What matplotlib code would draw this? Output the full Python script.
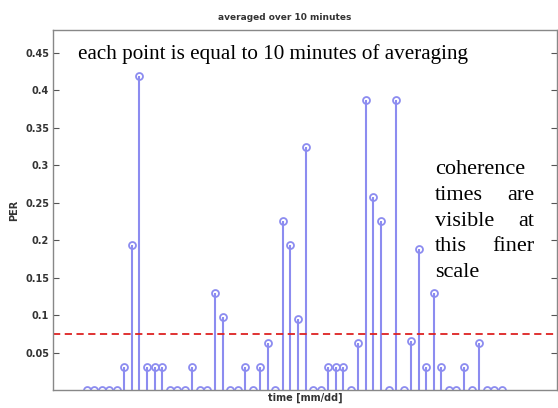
import matplotlib
matplotlib.use("Agg")
import matplotlib.pyplot as plt
import numpy as np

# PER per 10-minute window
per = [0, 0, 0, 0, 0, 0.031, 0.194, 0.419, 0.031, 0.031,
       0.031, 0, 0, 0, 0.031, 0, 0, 0.13, 0.097, 0,
       0, 0.031, 0, 0.031, 0.063, 0, 0.226, 0.194, 0.095, 0.324,
       0, 0, 0.031, 0.031, 0.031, 0, 0.063, 0.387, 0.258, 0.226,
       0, 0.387, 0, 0.065, 0.188, 0.031, 0.13, 0.031, 0, 0,
       0.031, 0, 0.063, 0, 0, 0]
threshold = 0.075
yticks = [0.05, 0.1, 0.15, 0.2, 0.25, 0.3, 0.35, 0.4, 0.45]
ytick_labels = ['0.05', '0.1', '0.15', '0.2', '0.25', '0.3', '0.35', '0.4', '0.45']

t = np.arange(1, len(per) + 1)
stem_col = '#8c8cf0'

fig = plt.figure(figsize=(5.58, 4.08), dpi=100)
ax = fig.add_axes([0.0955, 0.0441, 0.9025, 0.8816])

ml, sl, bl = ax.stem(t, per, basefmt=' ')
plt.setp(sl, color=stem_col, linewidth=1.5)
plt.setp(ml, marker='o', markersize=5, markerfacecolor='none',
         markeredgecolor=stem_col, markeredgewidth=1.3)

ax.axhline(threshold, color='#dd2222', linestyle='--', linewidth=1.3, dashes=(4, 2.5))

ax.set_xlim(-3.42, 63.3)
ax.set_ylim(0, 0.48)
ax.set_yticks(yticks)
ax.set_yticklabels(ytick_labels)
ax.set_xticks([])
ax.tick_params(axis='y', direction='in', length=4, width=0.8, color='#555555',
               labelsize=7, labelcolor='#333333', right=True, pad=3)
for lab in ax.get_yticklabels():
    lab.set_fontweight('bold')
for s in ax.spines.values():
    s.set_color('#888888')
    s.set_linewidth(1.0)

ax.set_ylabel('PER', fontsize=7, fontweight='bold', color='#333333', labelpad=4)
ax.set_xlabel('time [mm/dd]', fontsize=7, fontweight='bold', color='#333333', labelpad=2)
fig.text(0.511, 0.958, 'averaged over 10 minutes', fontsize=6.5, fontweight='bold',
         color='#333333', ha='center', va='center')

serif = 'Liberation Serif'
ax.text(0.049, 0.935, 'each point is equal to 10 minutes of averaging',
        transform=ax.transAxes, fontsize=15.2, family=serif,
        ha='left', va='center')

# justified note on the right
lines = [['coherence'], ['times', 'are'], ['visible', 'at'], ['this', 'finer'], ['scale']]
x_left, x_right = 0.7575, 0.955
y0, dy = 0.613, 0.0717
for i, words in enumerate(lines):
    y = y0 - i * dy
    ax.text(x_left, y, words[0], transform=ax.transAxes, fontsize=16,
            family=serif, ha='left', va='center')
    if len(words) > 1:
        ax.text(x_right, y, words[1], transform=ax.transAxes, fontsize=16,
                family=serif, ha='right', va='center')

fig.savefig('out.png', dpi=100)
